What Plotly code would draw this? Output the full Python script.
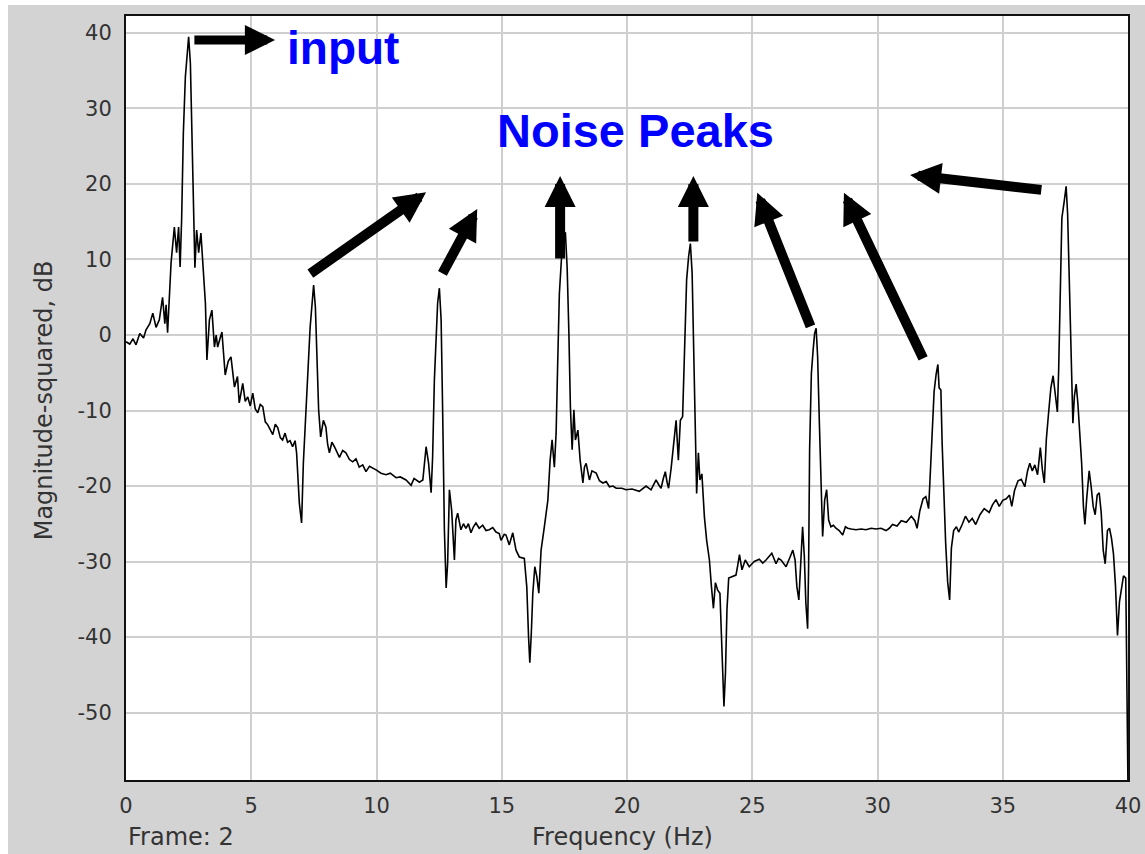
import plotly.graph_objects as go

# ---------------- data ----------------
freq_hz = [
    0.00, 0.15, 0.28, 0.40, 0.55, 0.70, 0.80, 0.95, 1.07, 1.20, 1.33, 1.46, 1.55, 1.60, 1.66, 1.73,
    1.80, 1.93, 2.02, 2.10, 2.16, 2.22, 2.29, 2.37, 2.46, 2.50, 2.57, 2.63, 2.70, 2.75, 2.82, 2.90,
    2.99, 3.09, 3.17, 3.23, 3.33, 3.43, 3.53, 3.60, 3.66, 3.75, 3.83, 3.96, 4.08, 4.19, 4.33, 4.45,
    4.52, 4.66, 4.76, 4.86, 4.96, 5.06, 5.16, 5.26, 5.36, 5.46, 5.56, 5.66, 5.76, 5.86, 5.96, 6.06,
    6.16, 6.25, 6.35, 6.45, 6.55, 6.65, 6.75, 6.81, 6.92, 7.01, 7.08, 7.19, 7.27, 7.35, 7.43, 7.49,
    7.56, 7.61, 7.69, 7.77, 7.88, 7.98, 8.05, 8.12, 8.22, 8.32, 8.42, 8.52, 8.65, 8.78, 8.92, 9.05,
    9.18, 9.31, 9.45, 9.58, 9.72, 9.85, 10.00, 10.18, 10.38, 10.55, 10.78, 10.95, 11.18, 11.38, 11.50, 11.71,
    11.85, 11.98, 12.08, 12.18, 12.24, 12.31, 12.38, 12.44, 12.51, 12.58, 12.64, 12.71, 12.78, 12.84, 12.91, 13.00,
    13.11, 13.17, 13.24, 13.37, 13.47, 13.57, 13.67, 13.77, 13.87, 13.97, 14.10, 14.24, 14.37, 14.50, 14.64, 14.77,
    14.90, 14.97, 15.10, 15.17, 15.30, 15.37, 15.44, 15.57, 15.70, 15.90, 16.00, 16.07, 16.12, 16.18, 16.24, 16.32,
    16.40, 16.48, 16.57, 16.70, 16.84, 16.93, 17.01, 17.10, 17.17, 17.23, 17.30, 17.38, 17.46, 17.54, 17.61, 17.68,
    17.74, 17.81, 17.88, 17.94, 18.04, 18.13, 18.24, 18.30, 18.37, 18.50, 18.60, 18.77, 18.90, 19.04, 19.17, 19.30,
    19.44, 19.57, 19.80, 19.96, 20.20, 20.49, 20.76, 20.96, 21.06, 21.16, 21.26, 21.36, 21.45, 21.53, 21.60, 21.66,
    21.76, 21.85, 21.96, 22.05, 22.13, 22.22, 22.30, 22.38, 22.46, 22.53, 22.60, 22.66, 22.73, 22.78, 22.85, 22.91,
    22.99, 23.09, 23.18, 23.29, 23.37, 23.45, 23.53, 23.62, 23.71, 23.79, 23.87, 23.93, 23.99, 24.06, 24.22, 24.35,
    24.42, 24.49, 24.59, 24.72, 24.88, 25.08, 25.28, 25.42, 25.55, 25.78, 25.95, 26.05, 26.15, 26.35, 26.51, 26.62,
    26.71, 26.78, 26.86, 26.92, 27.01, 27.08, 27.14, 27.21, 27.25, 27.29, 27.36, 27.43, 27.49, 27.55, 27.61, 27.68,
    27.75, 27.81, 27.89, 27.97, 28.05, 28.14, 28.24, 28.34, 28.47, 28.61, 28.72, 28.81, 28.95, 29.14, 29.35, 29.54,
    29.75, 29.94, 30.14, 30.34, 30.47, 30.60, 30.78, 30.95, 31.15, 31.35, 31.49, 31.58, 31.69, 31.82, 31.93, 32.04,
    32.09, 32.18, 32.26, 32.34, 32.41, 32.46, 32.53, 32.58, 32.65, 32.72, 32.80, 32.88, 32.95, 33.04, 33.15, 33.24,
    33.38, 33.51, 33.65, 33.78, 33.92, 34.09, 34.26, 34.46, 34.59, 34.73, 34.86, 35.00, 35.14, 35.27, 35.36, 35.47,
    35.61, 35.74, 35.88, 35.99, 36.08, 36.18, 36.28, 36.39, 36.50, 36.58, 36.66, 36.74, 36.82, 36.92, 37.01, 37.09,
    37.18, 37.23, 37.30, 37.36, 37.45, 37.53, 37.59, 37.66, 37.73, 37.80, 37.86, 37.93, 38.00, 38.07, 38.15, 38.22,
    38.28, 38.35, 38.45, 38.53, 38.61, 38.69, 38.77, 38.85, 38.93, 39.01, 39.09, 39.18, 39.26, 39.34, 39.42, 39.50,
    39.58, 39.66, 39.74, 39.82, 39.91, 39.96, 40.00,
]

magnitude_db = [
    -0.9, -1.2, -0.5, -1.3, 0.2, -0.4, 0.7, 1.5, 2.9, 1.0, 2.0, 5.0, 1.5, 4.0, 0.3, 5.6,
    9.6, 14.3, 10.9, 14.3, 9.0, 15.2, 26.8, 34.2, 37.5, 39.5, 36.0, 26.0, 14.6, 8.9, 13.9, 10.9,
    13.5, 8.0, 4.2, -3.3, 2.0, 3.3, -1.6, 0.0, -1.6, -0.5, 0.4, -5.3, -3.5, -2.9, -6.9, -5.5,
    -9.0, -6.4, -8.8, -8.2, -9.4, -7.7, -9.8, -10.3, -9.2, -9.5, -11.5, -11.9, -12.5, -13.2, -11.8, -12.3,
    -13.6, -13.9, -13.0, -14.2, -14.0, -14.8, -14.0, -15.6, -22.3, -24.9, -17.0, -10.3, -3.7, 1.0, 4.2, 6.6,
    3.7, -2.4, -9.9, -13.5, -11.3, -12.2, -14.5, -15.6, -14.2, -14.8, -15.5, -16.2, -15.3, -15.6, -16.5, -16.8,
    -16.4, -17.5, -17.2, -18.1, -17.4, -17.6, -17.9, -18.3, -18.5, -18.3, -18.9, -18.8, -19.2, -19.9, -19.0, -19.5,
    -19.2, -14.8, -17.0, -20.9, -16.2, -6.0, 0.6, 4.2, 6.2, 2.0, -9.9, -25.8, -33.5, -30.2, -20.5, -23.2,
    -29.8, -24.5, -23.6, -25.8, -25.0, -25.6, -25.0, -26.2, -25.4, -24.9, -25.6, -25.2, -25.9, -25.8, -25.5, -26.1,
    -26.3, -27.2, -26.4, -26.5, -27.8, -26.8, -26.2, -28.5, -29.4, -29.6, -33.4, -40.0, -43.4, -39.5, -34.2, -30.7,
    -32.0, -34.2, -28.5, -25.4, -21.9, -16.6, -13.9, -17.5, -13.0, -4.2, 5.5, 9.9, 13.0, 13.6, 9.0, 0.3,
    -9.5, -15.2, -9.9, -13.9, -12.6, -16.6, -19.6, -17.5, -17.0, -19.2, -18.0, -18.3, -19.3, -19.6, -19.4, -20.1,
    -20.0, -20.3, -20.3, -20.5, -20.4, -20.7, -20.0, -20.5, -19.8, -19.2, -19.8, -20.3, -19.0, -18.1, -19.5, -20.3,
    -17.7, -15.2, -11.3, -16.6, -11.3, -10.8, -0.2, 7.3, 10.4, 12.1, 8.2, -1.5, -14.8, -21.0, -15.6, -19.2,
    -18.4, -24.1, -27.2, -29.8, -33.3, -36.2, -32.8, -33.8, -34.2, -41.7, -49.2, -44.8, -36.4, -32.2, -32.0, -31.8,
    -30.5, -29.1, -31.1, -29.8, -30.7, -30.0, -29.7, -30.2, -29.8, -28.9, -30.3, -29.6, -29.8, -30.7, -29.4, -28.5,
    -29.8, -33.3, -35.1, -30.7, -25.4, -29.4, -35.5, -38.9, -30.7, -15.2, -5.1, -2.0, 0.2, 0.9, -2.9, -11.7,
    -21.9, -26.7, -21.9, -20.5, -24.5, -25.4, -25.2, -25.6, -25.9, -26.5, -25.4, -25.6, -25.7, -25.8, -25.7, -25.8,
    -25.6, -25.7, -25.6, -25.9, -25.6, -25.1, -25.3, -24.6, -24.8, -24.0, -24.6, -25.6, -23.3, -21.7, -21.4, -23.0,
    -19.6, -12.8, -7.5, -5.2, -3.9, -7.0, -7.3, -14.3, -21.4, -27.5, -32.7, -35.1, -28.2, -25.9, -25.4, -26.1,
    -25.1, -24.0, -24.8, -24.3, -25.1, -23.8, -23.0, -23.5, -22.5, -21.8, -22.7, -21.9, -21.7, -21.2, -22.7, -20.6,
    -19.3, -19.1, -20.1, -18.0, -17.0, -18.0, -17.2, -18.5, -14.9, -17.8, -19.6, -13.8, -10.7, -7.0, -5.4, -7.5,
    -10.2, -4.9, 6.6, 15.5, 17.6, 19.7, 16.0, 6.6, -5.4, -11.7, -8.1, -6.5, -9.1, -12.3, -17.0, -22.7,
    -25.1, -21.7, -18.0, -20.1, -22.7, -23.8, -21.2, -20.9, -23.5, -28.5, -30.3, -25.9, -25.6, -26.9, -29.0, -33.2,
    -39.8, -35.3, -33.2, -31.9, -32.2, -45.8, -60.0,
]

x_ticks = [0, 5, 10, 15, 20, 25, 30, 35, 40]
y_ticks = [-50, -40, -30, -20, -10, 0, 10, 20, 30, 40]

# arrow annotations (tip -> tail) in data units
arrow_tip_x = [5.95, 11.98, 14.02, 17.33, 22.65, 25.20, 28.66, 31.30]
arrow_tip_y = [39.07, 18.9, 16.7, 21.06, 21.06, 18.85, 18.85, 21.2]
arrow_tail_x = [2.67, 7.30, 12.60, 17.33, 22.65, 27.35, 31.85, 36.60]
arrow_tail_y = [39.07, 8.0, 7.95, 9.93, 12.2, 0.93, -3.3, 19.2]

# ---------------- figure ----------------
W, H = 1145, 854
L, R, T, B = 126, 17, 16, 74

fig = go.Figure()
fig.add_trace(go.Scatter(
    x=freq_hz, y=magnitude_db, mode="lines",
    line=dict(color="black", width=1.6),
    hoverinfo="skip", showlegend=False,
))

axis_font = dict(family="DejaVu Sans", size=21, color="#333333")

fig.update_layout(
    width=W, height=H,
    margin=dict(l=L, r=R, t=T, b=B, pad=0, autoexpand=False),
    paper_bgcolor="#d3d3d3",
    plot_bgcolor="white",
    showlegend=False,
    xaxis=dict(
        range=[0, 40], tickvals=x_ticks, ticktext=[str(v) for v in x_ticks],
        showgrid=True, gridcolor="#cfcfcf", gridwidth=1.5, automargin=False,
        zeroline=False, showline=True, linecolor="#111111", linewidth=2, mirror=True,
        ticks="", tickfont=axis_font, ticklabelstandoff=6,
    ),
    yaxis=dict(
        range=[-58.94, 42.25], tickvals=y_ticks, ticktext=[str(v) for v in y_ticks],
        showgrid=True, gridcolor="#cfcfcf", gridwidth=1.5, automargin=False,
        zeroline=False, showline=True, linecolor="#111111", linewidth=2, mirror=True,
        ticks="", tickfont=axis_font, ticklabelstandoff=8,
    ),
)

annotations = []
for i in range(len(arrow_tip_x)):
    is_input = (i == 0)
    annotations.append(dict(
        x=arrow_tip_x[i], y=arrow_tip_y[i],
        ax=arrow_tail_x[i], ay=arrow_tail_y[i],
        xref="x", yref="y", axref="x", ayref="y",
        text="", showarrow=True, arrowhead=2,
        arrowsize=0.67 if is_input else 0.62,
        arrowwidth=9 if is_input else 10,
        arrowcolor="black", standoff=0,
    ))

annotations.append(dict(
    x=6.35, y=38.0, xref="x", yref="y", xanchor="left", yanchor="middle",
    text="<b>input</b>", showarrow=False,
    font=dict(family="Liberation Sans", size=46, color="#0000ff"),
))
annotations.append(dict(
    x=20.34, y=27.03, xref="x", yref="y", xanchor="center", yanchor="middle",
    text="<b>Noise Peaks</b>", showarrow=False,
    font=dict(family="Liberation Sans", size=47, color="#0000ff"),
))
title_font = dict(family="DejaVu Sans", size=24, color="#333333")
annotations.append(dict(
    x=0.0, y=-0.0742, xref="paper", yref="paper", xanchor="left", yanchor="middle",
    text="Frame: 2", showarrow=False, font=title_font,
))
annotations.append(dict(
    x=0.496, y=-0.0742, xref="paper", yref="paper", xanchor="center", yanchor="middle",
    text="Frequency (Hz)", showarrow=False, font=title_font,
))
annotations.append(dict(
    x=-0.0818, y=0.497, xref="paper", yref="paper", xanchor="center", yanchor="middle",
    text="Magnitude-squared, dB", textangle=-90, showarrow=False, font=title_font,
))
fig.update_layout(annotations=annotations)

# thin white page strips at the left and top edges of the grey window
fig.add_shape(type="rect", xref="paper", yref="paper",
              x0=-0.2, x1=-0.1178, y0=-0.2, y1=1.2,
              fillcolor="white", line=dict(width=0), layer="above")
fig.add_shape(type="rect", xref="paper", yref="paper",
              x0=-0.2, x1=1.2, y0=1.0144, y1=1.2,
              fillcolor="white", line=dict(width=0), layer="above")

fig.write_html("out.html")
